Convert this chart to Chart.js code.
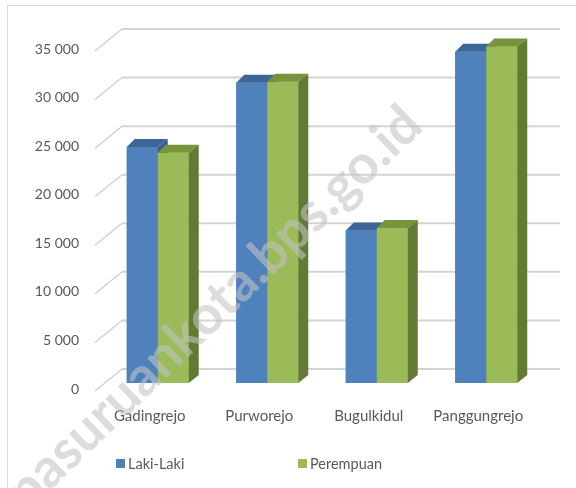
<!DOCTYPE html>
<html>
<head>
<meta charset="utf-8">
<script src="https://cdn.jsdelivr.net/npm/chart.js@4.4.0/dist/chart.umd.min.js"></script>
<style>
    html, body { margin: 0; padding: 0; background: #ffffff; }
    #wrap { width: 576px; height: 488px; }
</style>
</head>
<body>
<div id="wrap"><canvas id="chart"></canvas></div>
<script>
const categories = ['Gadingrejo', 'Purworejo', 'Bugulkidul', 'Panggungrejo']
const lakiLaki = [24300, 30900, 15700, 34100]
const perempuan = [23700, 31000, 15950, 34650]
const yTicks = [0, 5000, 10000, 15000, 20000, 25000, 30000, 35000]

const FONT = 'Lato'
const TEXT_COLOR = '#595959'

// front, top, side colours for each series
const faces = [
    { front: '#4f81bd', top: '#3d6595', side: '#385d8a' },
    { front: '#9bbb59', top: '#77933c', side: '#627a33' }
]

const DX = 10
const DY = 8

function fmt(v) {
    return String(v).replace(/\B(?=(\d{3})+(?!\d))/g, ' ')
}

function box3d(ctx, el, c) {
    const x1 = el.x - el.width / 2
    const x2 = el.x + el.width / 2
    const yt = el.y
    const yb = el.base
    ctx.fillStyle = c.front
    ctx.fillRect(x1, yt, x2 - x1, yb - yt)
    // top face
    ctx.fillStyle = c.top
    ctx.beginPath()
    ctx.moveTo(x1, yt)
    ctx.lineTo(x2, yt)
    ctx.lineTo(x2 + DX, yt - DY)
    ctx.lineTo(x1 + DX - 2, yt - DY)
    ctx.closePath()
    ctx.fill()
    // side face
    ctx.fillStyle = c.side
    ctx.beginPath()
    ctx.moveTo(x2, yt)
    ctx.lineTo(x2 + DX, yt - DY)
    ctx.lineTo(x2 + DX, yb - DY)
    ctx.lineTo(x2, yb)
    ctx.closePath()
    ctx.fill()
}

const threeD = {
    id: 'threeD',
    beforeDatasetsDraw(chart) {
        const ctx = chart.ctx
        const a = chart.chartArea
        const y = chart.scales.y
        ctx.save()
        y.ticks.forEach((t) => {
            const py = y.getPixelForValue(t.value)
            // side diagonal
            ctx.strokeStyle = '#cfcfcf'
            ctx.lineWidth = 1.3
            ctx.beginPath()
            ctx.moveTo(a.left - 8, py + 8)
            ctx.lineTo(a.left + 19, py - 14)
            ctx.stroke()
            // back wall line
            ctx.strokeStyle = '#d4d4d4'
            ctx.lineWidth = 2
            ctx.beginPath()
            ctx.moveTo(a.left + 19, py - 14)
            ctx.lineTo(a.right + 19, py - 14)
            ctx.stroke()
        })
        ctx.restore()
    },
    afterDatasetsDraw(chart) {
        const ctx = chart.ctx
        const m0 = chart.getDatasetMeta(0)
        const m1 = chart.getDatasetMeta(1)
        ctx.save()
        categories.forEach((cat, i) => {
            box3d(ctx, m0.data[i], faces[0])
            box3d(ctx, m1.data[i], faces[1])
        })

        // legend
        const legendX = [116, 298]
        ctx.font = '14.5px ' + FONT
        ctx.textAlign = 'left'
        ctx.textBaseline = 'middle'
        chart.data.datasets.forEach((ds, i) => {
            ctx.fillStyle = ds.backgroundColor
            ctx.fillRect(legendX[i], 459, 9, 9)
            ctx.fillStyle = TEXT_COLOR
            ctx.fillText(ds.label, legendX[i] + 12, 464)
        })

        // chart frame
        ctx.strokeStyle = '#d9d9d9'
        ctx.lineWidth = 1
        ctx.strokeRect(7.5, 5.5, 600, 600)

        // watermark
        ctx.translate(214, 308)
        ctx.rotate(-44 * Math.PI / 180)
        ctx.font = 'bold 54px ' + FONT
        ctx.textAlign = 'center'
        ctx.fillStyle = 'rgba(195, 195, 195, 0.58)'
        ctx.fillText('pasuruankota.bps.go.id', 0, 0)
        ctx.restore()
    }
}

new Chart(document.getElementById('chart'), {
    type: 'bar',
    data: {
        labels: categories,
        datasets: [
            {
                label: 'Laki-Laki',
                data: lakiLaki,
                backgroundColor: faces[0].front
            },
            {
                label: 'Perempuan',
                data: perempuan,
                backgroundColor: faces[1].front
            }
        ]
    },
    options: {
        responsive: true,
        maintainAspectRatio: false,
        animation: false,
        events: [],
        categoryPercentage: 0.566,
        barPercentage: 1,
        layout: {
            padding: { left: 0, right: 35, top: 43, bottom: 63 }
        },
        plugins: {
            legend: { display: false },
            tooltip: { enabled: false }
        },
        scales: {
            x: {
                afterFit: (scale) => { scale.height = 42 },
                grid: { display: false, drawTicks: false },
                border: { display: false },
                ticks: {
                    padding: 24,
                    labelOffset: -8,
                    maxRotation: 0,
                    color: TEXT_COLOR,
                    font: { family: FONT, size: 15 }
                }
            },
            y: {
                min: 0,
                max: 35000,
                afterFit: (scale) => { scale.width = 103 },
                afterBuildTicks: (scale) => {
                    scale.ticks = yTicks.map((v) => ({ value: v }))
                },
                grid: { display: false, drawTicks: false },
                border: { display: false },
                ticks: {
                    padding: 24,
                    labelOffset: 6,
                    color: TEXT_COLOR,
                    font: { family: FONT, size: 14 },
                    callback: (v) => fmt(v)
                }
            }
        }
    },
    plugins: [threeD]
})
</script>
</body>
</html>
